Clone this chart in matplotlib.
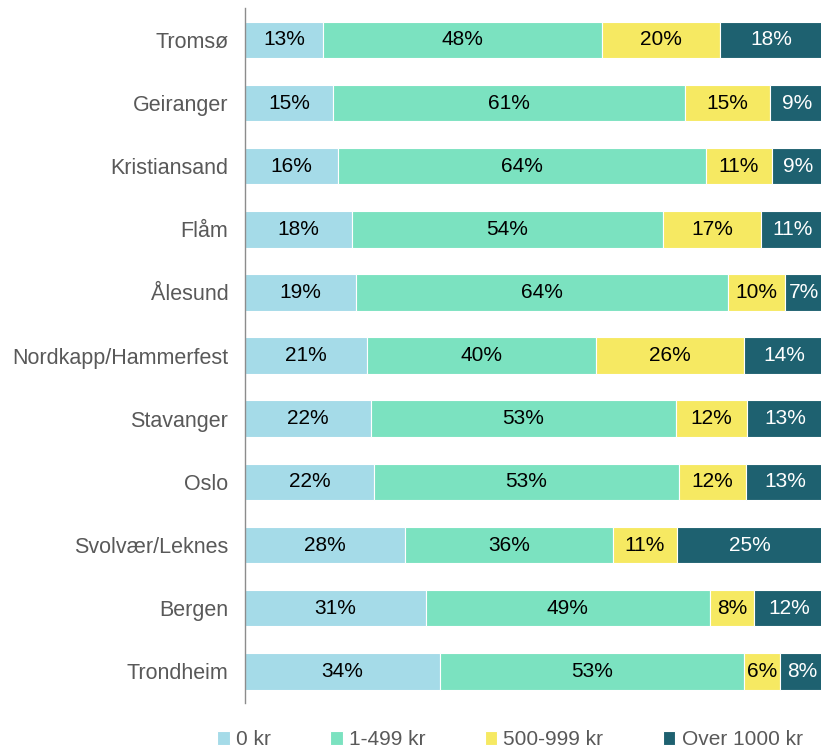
import numpy as np
import matplotlib.pyplot as plt

plt.rcParams['font.family'] = ['Liberation Sans', 'DejaVu Sans']

cities = ['Tromsø', 'Geiranger', 'Kristiansand', 'Flåm', 'Ålesund',
          'Nordkapp/Hammerfest', 'Stavanger', 'Oslo', 'Svolvær/Leknes',
          'Bergen', 'Trondheim']
series = ['0 kr', '1-499 kr', '500-999 kr', 'Over 1000 kr']

kr_0 = [13.4, 15.2, 16.0, 18.4, 19.1, 21.0, 21.7, 22.2, 27.6, 31.2, 33.6]
kr_1_499 = [48.3, 60.8, 63.6, 53.8, 64.3, 39.6, 52.8, 52.8, 35.9, 49.1, 52.6]
kr_500_999 = [20.3, 14.7, 11.4, 16.9, 9.9, 25.6, 12.2, 11.6, 11.1, 7.6, 6.2]
kr_over_1000 = [18.0, 9.3, 9.0, 10.9, 6.7, 13.8, 13.3, 13.4, 25.4, 12.1, 7.6]

colors = ['#a5dbe8', '#7be2c0', '#f6e962', '#1e6170']
text_colors = ['black', 'black', 'black', 'white']

fig = plt.figure(figsize=(8.21, 7.55), dpi=100)
ax = fig.add_axes([0.2985, 0.069, 0.705, 0.92])

y = np.arange(len(cities))
left = np.zeros(len(cities))
for name, vals, c, tc in zip(series, [kr_0, kr_1_499, kr_500_999, kr_over_1000],
                             colors, text_colors):
    vals = np.array(vals)
    ax.barh(y, vals, left=left, height=0.58, color=c, label=name,
            edgecolor='white', linewidth=0.8)
    for yi, l, v in zip(y, left, vals):
        ax.text(l + v / 2, yi, f'{v:.0f}%', ha='center', va='center',
                fontsize=15, color=tc)
    left += vals

ax.set_xlim(0, 100)
ax.set_ylim(len(cities) - 0.5, -0.5)
ax.set_yticks(y)
ax.set_yticklabels(cities, fontsize=15.5, color='#595959')
ax.tick_params(axis='y', length=0, pad=12)
ax.set_xticks([])
for s in ['top', 'right', 'bottom']:
    ax.spines[s].set_visible(False)
ax.spines['left'].set_color('#8c8c8c')
ax.spines['left'].set_linewidth(1)

fig.legend(loc='center', bbox_to_anchor=(0.621, 0.02), ncol=4, frameon=False,
           fontsize=15, labelcolor='#595959', handlelength=0.6,
           handleheight=0.6, handletextpad=0.3, columnspacing=2.85,
           borderpad=0.1)

fig.savefig('out.png', dpi=100)
